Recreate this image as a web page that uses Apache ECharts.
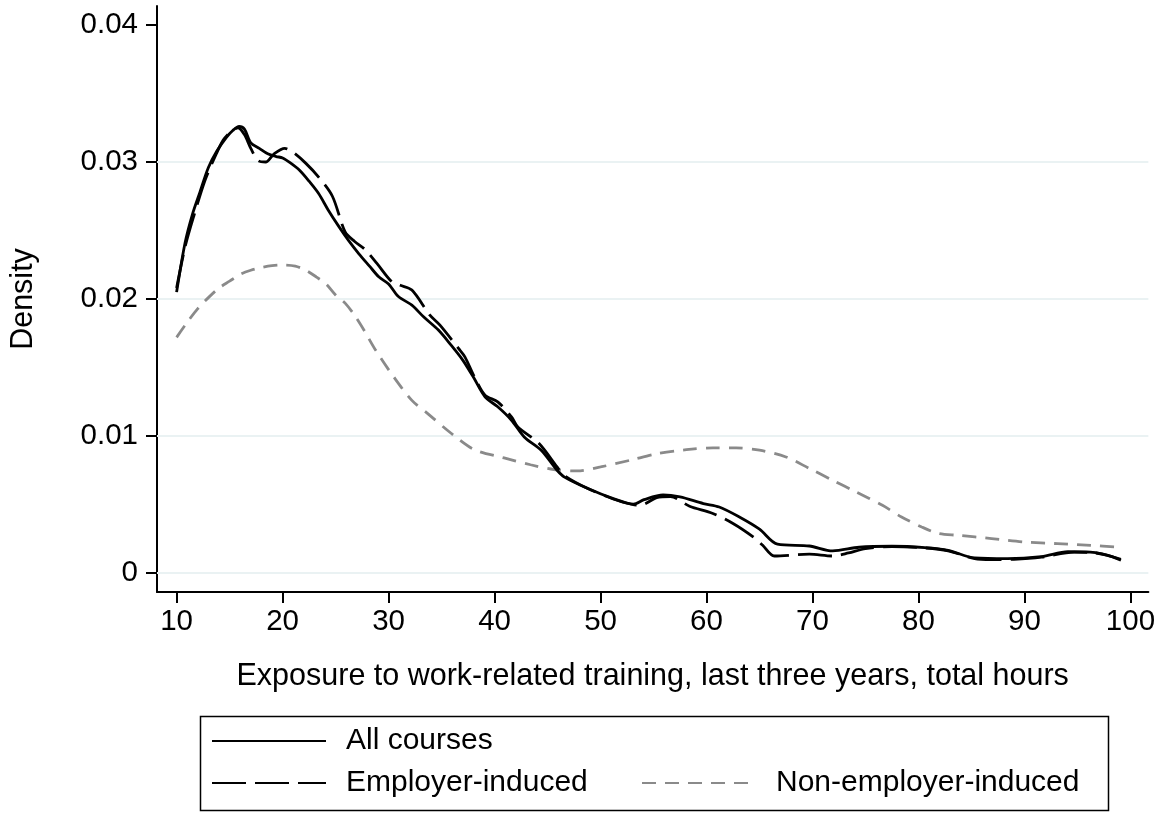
<!DOCTYPE html>
<html>
<head>
<meta charset="utf-8">
<script src="https://cdn.jsdelivr.net/npm/echarts@6/dist/echarts.min.js"></script>
<style>
html, body { margin: 0; padding: 0; background: #fff; }
#densitychart { width: 1158px; height: 814px; }
</style>
</head>
<body>
<div id="densitychart"></div>
<script>
// tick labels
var xTicks = [10, 20, 30, 40, 50, 60, 70, 80, 90, 100]
var yTicks = [0, 0.01, 0.02, 0.03, 0.04]
var gridValues = [0, 0.01, 0.02, 0.03]

// All courses (solid)
var allX = [10, 10.8, 11.5, 12.2, 13.0, 13.8, 14.7, 15.3, 15.9, 16.4, 17.0, 17.8, 18.6, 19.4, 20.0, 20.8, 21.6, 22.5, 23.4, 24.3, 25.3, 26.2, 27.2, 28.2, 29.1, 30.0, 30.9, 32.2, 33.3, 34.7, 35.9, 37.0, 38.0, 39.1, 40.3, 41.6, 42.8, 44.4, 45.9, 46.6, 48.7, 51.2, 53.1, 54.1, 55.9, 57.5, 59.7, 61.2, 63.1, 65.0, 66.7, 69.7, 71.9, 74.4, 77.5, 80.6, 82.8, 85.3, 88.4, 91.6, 94.1, 96.2, 99.1]
var allY = [0.0205, 0.0241, 0.0262, 0.0278, 0.0296, 0.0308, 0.0318, 0.0323, 0.0326, 0.0324, 0.0314, 0.0310, 0.0306, 0.0304, 0.0303, 0.0299, 0.0294, 0.0286, 0.0277, 0.0265, 0.0253, 0.0243, 0.0233, 0.0224, 0.0216, 0.0211, 0.0202, 0.01955, 0.0187, 0.01773, 0.01663, 0.01554, 0.0143, 0.01286, 0.01213, 0.01115, 0.00993, 0.00896, 0.0075, 0.0070, 0.0062, 0.00543, 0.00502, 0.00535, 0.0057, 0.00555, 0.00507, 0.00482, 0.00409, 0.0032, 0.0021, 0.00197, 0.00161, 0.00188, 0.00195, 0.00185, 0.00165, 0.0011, 0.00105, 0.0012, 0.00155, 0.00153, 0.001]

// Employer-induced (long dash)
var empX = [10, 10.8, 11.6, 12.7, 13.75, 14.4, 15.1, 15.8, 16.4, 17.0, 17.7, 18.4, 19.2, 20.2, 21.0, 22.2, 23.4, 24.7, 25.9, 26.8, 27.8, 28.9, 30.3, 31.1, 32.2, 33.9, 34.85, 36.6, 37.2, 38.1, 39.1, 40.3, 41.6, 42.2, 44.2, 45.9, 46.6, 48.7, 51.2, 53.0, 53.75, 55.3, 56.6, 58.4, 60.6, 62.5, 64.4, 65.3, 66.4, 69.7, 71.9, 73.4, 75.0, 77.5, 80.6, 82.8, 85.3, 86.9, 89.0, 91.6, 94.7, 96.5, 97.8, 99.1]
var empY = [0.0208, 0.0238, 0.026, 0.0287, 0.0306, 0.0316, 0.0322, 0.0325, 0.032, 0.031, 0.0301, 0.03, 0.0306, 0.031, 0.0307, 0.0299, 0.0289, 0.0275, 0.0249, 0.0242, 0.0236, 0.0226, 0.02126, 0.021, 0.02065, 0.01882, 0.01809, 0.01639, 0.01578, 0.01432, 0.01298, 0.01249, 0.0114, 0.01066, 0.00945, 0.00774, 0.0071, 0.0062, 0.0054, 0.005, 0.00494, 0.0055, 0.00558, 0.00487, 0.00434, 0.00361, 0.00263, 0.00202, 0.00124, 0.00137, 0.00124, 0.00146, 0.00178, 0.00192, 0.00183, 0.00162, 0.00105, 0.00098, 0.001, 0.00115, 0.00153, 0.00148, 0.0013, 0.00093]

// Non-employer-induced (grey short dash)
var nonX = [10, 11, 12, 13, 14, 15, 16, 17, 18, 19, 20, 21.2, 22.2, 23.2, 24.1, 25.0, 25.9, 26.8, 27.7, 28.75, 30.5, 32.2, 33.75, 35.9, 38.1, 40.9, 43.4, 45.6, 47.8, 50.0, 52.8, 55.3, 58.1, 60.6, 62.8, 65.0, 67.5, 69.7, 71.9, 74.1, 76.6, 78.4, 80.3, 81.9, 83.75, 86.9, 90.0, 93.1, 96.25, 98.9]
var nonY = [0.0172, 0.0183, 0.0193, 0.0201, 0.0208, 0.0213, 0.0218, 0.0221, 0.0223, 0.02243, 0.02248, 0.0224, 0.0221, 0.0216, 0.0211, 0.0203, 0.0197, 0.0188, 0.0177, 0.0163, 0.0143, 0.0126, 0.0116, 0.0102, 0.009, 0.0084, 0.0079, 0.00755, 0.00745, 0.00774, 0.00823, 0.0087, 0.009, 0.00913, 0.00913, 0.00896, 0.00847, 0.00763, 0.00677, 0.00592, 0.00494, 0.00409, 0.00336, 0.00288, 0.00275, 0.00251, 0.00226, 0.00214, 0.00202, 0.00188]

var seriesNames = ['All courses', 'Employer-induced', 'Non-employer-induced']

function pairs(xs, ys){
    return xs.map(function(x, i){ return [x, ys[i]] })
}

var fontFam = '"Liberation Sans", Arial, Helvetica, sans-serif'
var legendText = { fontSize: 30, color: '#000', fontFamily: fontFam, padding: [0, 0, 0, 15] }

var chart = echarts.init(document.getElementById('densitychart'), null, { renderer: 'canvas' })

var option = {
    animation: false,
    backgroundColor: '#fff',
    grid: { left: 154, right: 8, top: 6, bottom: 222 },
    xAxis: {
        type: 'value',
        min: 8.15,
        max: 101.69,
        name: 'Exposure to work-related training, last three years, total hours',
        nameLocation: 'middle',
        nameGap: 69,
        nameTextStyle: { fontSize: 30.5, color: '#000', fontFamily: fontFam },
        axisLine: { onZero: false, lineStyle: { color: '#000', width: 2 } },
        axisTick: { length: 11, lineStyle: { color: '#000', width: 2 }, customValues: xTicks },
        axisLabel: { fontSize: 29.5, color: '#000', fontFamily: fontFam, margin: 15, customValues: xTicks },
        splitLine: { show: false }
    },
    yAxis: {
        type: 'value',
        min: -0.001388,
        max: 0.041388,
        name: 'Density',
        nameLocation: 'middle',
        nameGap: 118,
        nameTextStyle: { fontSize: 30.5, color: '#000', fontFamily: fontFam },
        axisLine: { show: true, onZero: false, lineStyle: { color: '#000', width: 2 } },
        axisTick: { show: true, length: 11, lineStyle: { color: '#000', width: 2 }, customValues: yTicks },
        axisLabel: {
            fontSize: 29.5, color: '#000', fontFamily: fontFam, margin: 19, customValues: yTicks,
            formatter: function(v){ return v === 0 ? '0' : v.toFixed(2) }
        },
        splitLine: { show: false }
    },
    legend: [
        {
            data: [seriesNames[0]], left: 211, top: 726, padding: 0,
            itemWidth: 114, itemHeight: 10, itemStyle: { opacity: 0 }, textStyle: legendText
        },
        {
            data: [seriesNames[1]], left: 211, top: 768, padding: 0,
            itemWidth: 114, itemHeight: 10, itemStyle: { opacity: 0 }, textStyle: legendText
        },
        {
            data: [seriesNames[2]], left: 641, top: 768, padding: 0,
            itemWidth: 114, itemHeight: 10, itemStyle: { opacity: 0 }, textStyle: legendText
        }
    ],
    graphic: [
        {   // legend frame
            type: 'rect', left: 198, top: 714,
            shape: { width: 908, height: 94 },
            style: { fill: null, stroke: '#000', lineWidth: 1.5 }
        }
    ],
    series: [
        {
            name: 'grid', type: 'line', data: [], silent: true,
            markLine: {
                z: 1, silent: true, symbol: 'none', label: { show: false },
                lineStyle: { color: '#eaf2f3', width: 2, type: 'solid' },
                data: gridValues.map(function(v){ return { yAxis: v } })
            }
        },
        {
            name: seriesNames[2], type: 'line', data: pairs(nonX, nonY),
            symbol: 'none', smooth: 0.3, z: 3,
            lineStyle: { color: '#8a8a8a', width: 2.8, type: [14, 9] },
            itemStyle: { color: '#8a8a8a' }
        },
        {
            name: seriesNames[1], type: 'line', data: pairs(empX, empY),
            symbol: 'none', smooth: 0.3, z: 4,
            lineStyle: { color: '#000', width: 2.8, type: [34, 9] },
            itemStyle: { color: '#000' }
        },
        {
            name: seriesNames[0], type: 'line', data: pairs(allX, allY),
            symbol: 'none', smooth: 0.3, z: 5,
            lineStyle: { color: '#000', width: 2.8, type: 'solid' },
            itemStyle: { color: '#000' }
        }
    ]
}

chart.setOption(option)
window.onresize = function(){ chart.resize() }
</script>
</body>
</html>
